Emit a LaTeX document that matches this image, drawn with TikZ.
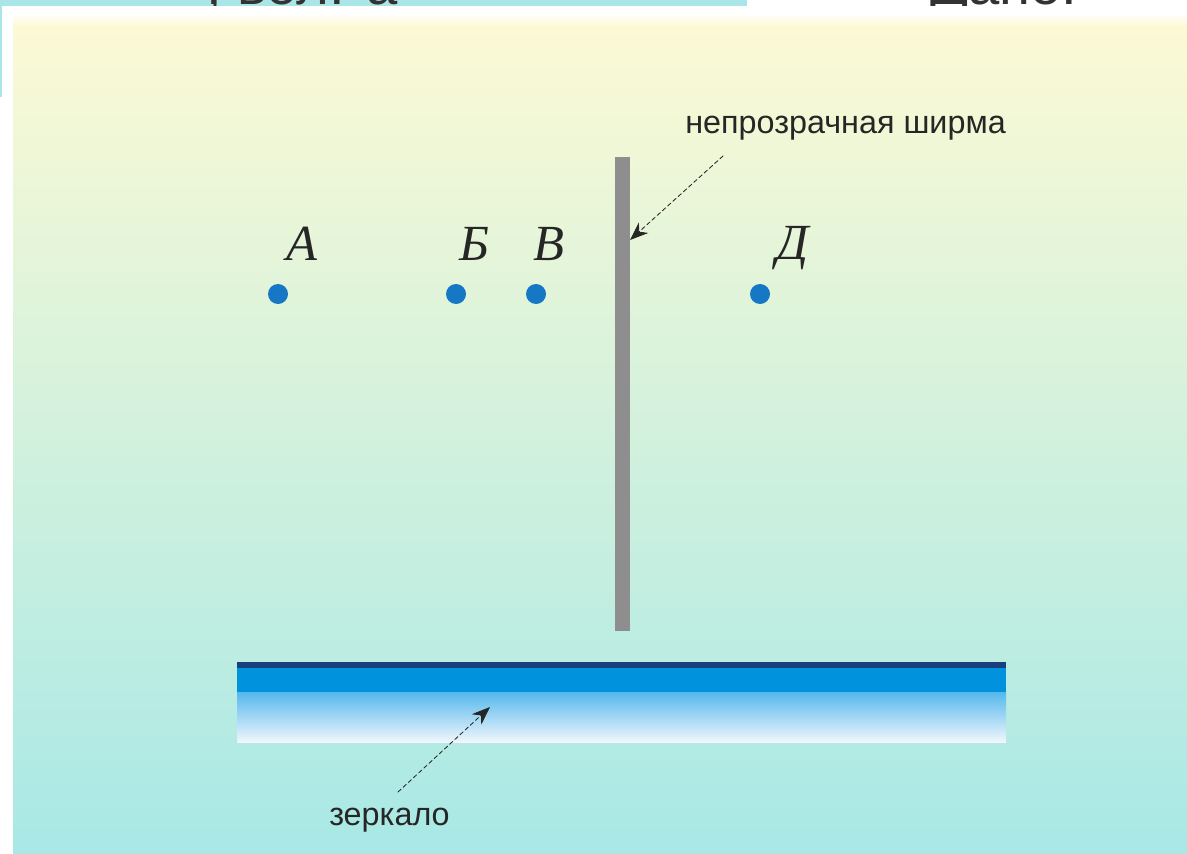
\documentclass[tikz,border=0pt]{standalone}
\usepackage{fontspec}
\setmainfont{Liberation Serif}
\newfontfamily\sansfont{Liberation Sans}
\usepackage{tikz}
\usetikzlibrary{arrows.meta, positioning, calc}

\definecolor{panelTop}{RGB}{253,250,212}
\definecolor{panelMid}{RGB}{222,243,220}
\definecolor{panelBot}{RGB}{168,232,230}
\definecolor{bandCyan}{RGB}{170,230,232}
\definecolor{dotBlue}{RGB}{22,120,196}
\definecolor{screenGray}{RGB}{142,142,142}
\definecolor{mirrorDark}{RGB}{24,64,126}
\definecolor{mirrorBlue}{RGB}{0,146,220}
\definecolor{mirrorLight}{RGB}{84,184,236}
\definecolor{mirrorPale}{RGB}{150,206,240}
\definecolor{mirrorWhite}{RGB}{240,246,252}

\begin{document}
\begin{tikzpicture}[x=0.025cm, y=-0.025cm, >=Stealth, line cap=round, line join=round]
    % Styles
    \tikzset{
        pointdot/.style={circle, fill=dotBlue, inner sep=0pt, minimum size=0.5cm},
        pointname/.style={font=\fontsize{36}{40}\selectfont\itshape, text=black!85, inner sep=0pt},
        callout/.style={font=\sansfont\fontsize{23}{27}\selectfont, text=black!85, inner sep=0pt},
        cuttext/.style={anchor=base west, font=\sansfont\fontsize{40}{44}\selectfont, text=black!80, inner sep=0pt},
        pointer/.style={-{Stealth[length=13pt, width=10pt]}, densely dashed, line width=0.6pt, black!85},
        screenbar/.style={fill=screenGray, inner sep=0pt, minimum width=0.375cm, minimum height=11.85cm}
    }
    \useasboundingbox (0,0) rectangle (1187,853);
    \fill[white] (0,0) rectangle (1187,853);

    % --- Cut-off strip at the top ---
    \fill[bandCyan] (0,0) rectangle (747,6);
    \fill[bandCyan] (0,0) rectangle (2,97);
    \begin{scope}
        \clip (0,0) rectangle (747,6);
        \node[cuttext] (topText) at (206,5) {, вол. а};
    \end{scope}
    \begin{scope}
        \clip (760,0) rectangle (1187,6);
        \node[cuttext] (givenText) at (930,5) {Дано:};
    \end{scope}

    % --- Panel ---
    \shade[top color=panelTop, middle color=panelMid, bottom color=panelBot] (13,13) rectangle (1187,853);
    \shade[top color=white, bottom color=panelTop] (13,13) rectangle (1187,26);

    % --- Opaque screen ---
    \node[screenbar] (screen) at (622,394) {};
    \coordinate (screenHit) at (630,240);
    \node[callout, anchor=west] (screenText) at (685,128) {непрозрачная ширма};
    \coordinate (screenFrom) at (723,156);
    \draw[pointer] (screenFrom) -- (screenHit);

    % --- Points ---
    \node[pointdot] (dotA) at (278,294) {};
    \node[pointdot] (dotB) at (456,294) {};
    \node[pointdot] (dotV) at (536,294) {};
    \node[pointdot] (dotD) at (760,294) {};
    \node[pointname] (nameA) at (302,244) {А};
    \node[pointname] (nameB) at (474,244) {Б};
    \node[pointname] (nameV) at (549,244) {В};
    \node[pointname] (nameD) at (793,248) {Д};

    % --- Mirror ---
    \fill[mirrorDark] (237,662) rectangle (1006,668);
    \fill[mirrorBlue] (237,668) rectangle (1006,692);
    \shade[top color=mirrorLight, middle color=mirrorPale, bottom color=mirrorWhite] (237,692) rectangle (1006,742);
    \coordinate (mirrorHit) at (490,707);
    \coordinate (mirrorFrom) at (398,792);
    \draw[pointer] (mirrorFrom) -- (mirrorHit);
    \node[callout, anchor=west] (mirrorText) at (329,820) {зеркало};
\end{tikzpicture}
\end{document}
